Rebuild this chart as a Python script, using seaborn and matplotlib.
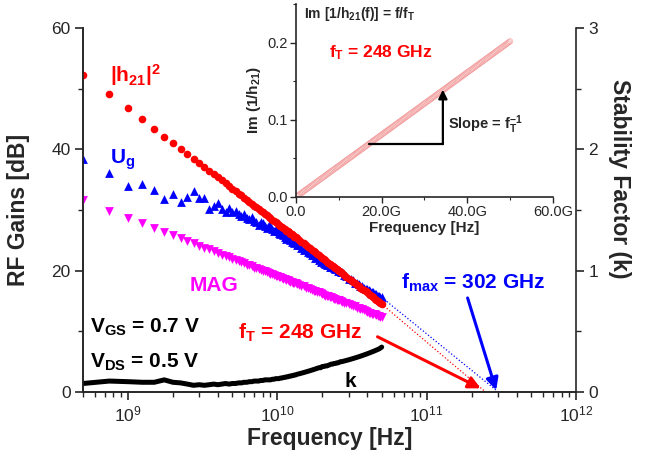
import numpy as np
import pandas as pd
import matplotlib
matplotlib.use("Agg")
import matplotlib.pyplot as plt
import seaborn as sns
from matplotlib.ticker import FuncFormatter, MultipleLocator, LogLocator, NullFormatter, FixedLocator

# ---------------- data ----------------
freq_ghz = [0.5, 0.75, 1.0, 1.25, 1.5, 1.75, 2.0, 2.25, 2.5, 2.75,
            3.0, 3.25, 3.5, 3.75, 4.0, 4.25, 4.5, 4.75, 5.0, 5.25,
            5.5, 5.75, 6.0, 6.25, 6.5, 6.75, 7.0, 7.25, 7.5, 7.75,
            8.0, 8.25, 8.5, 8.75, 9.0, 9.25, 9.5, 9.75, 10.0, 10.25,
            10.5, 10.75, 11.0, 11.25, 11.5, 11.75, 12.0, 12.25, 12.5, 12.75,
            13.0, 13.25, 13.5, 14.0, 14.5, 15.0, 15.5, 16.0, 16.5, 17.0,
            17.5, 18.0, 18.5, 19.0, 19.5, 20.0, 20.5, 21.0, 21.5, 22.0,
            22.5, 23.0, 23.5, 24.0, 24.5, 25.0, 25.5, 26.0, 26.5, 27.0,
            28, 29, 30, 31, 32, 33, 34, 35, 36, 37,
            38, 39, 40, 41, 42, 43, 44, 45, 46, 47,
            48, 49, 50]

h21_db = [52.3, 49.1, 46.8, 45.0, 43.4, 42.1, 41.0, 40.1, 39.2, 38.4,
          37.7, 37.1, 36.5, 35.9, 35.4, 34.9, 34.4, 33.9, 33.5, 33.1,
          32.7, 32.4, 32.0, 31.7, 31.3, 31.0, 30.7, 30.5, 30.2, 29.9,
          29.6, 29.4, 29.1, 28.9, 28.7, 28.4, 28.2, 28.0, 27.8, 27.6,
          27.4, 27.2, 27.0, 26.8, 26.6, 26.5, 26.3, 26.1, 26.0, 25.8,
          25.6, 25.5, 25.3, 25.0, 24.7, 24.5, 24.2, 23.9, 23.7, 23.4,
          23.2, 23.0, 22.7, 22.5, 22.3, 22.1, 21.9, 21.7, 21.5, 21.3,
          21.1, 20.9, 20.8, 20.6, 20.4, 20.2, 20.1, 19.9, 19.8, 19.6,
          19.3, 19.0, 18.7, 18.5, 18.2, 17.9, 17.7, 17.5, 17.2, 17.0,
          16.8, 16.6, 16.4, 16.2, 16.0, 15.8, 15.6, 15.4, 15.2, 15.0,
          14.9, 14.7, 14.5]

ug_db = [38.4, 36.1, 33.9, 34.3, 33.3, 31.8, 32.6, 31.3, 32.1, 33.1,
         32.0, 32.0, 30.1, 30.6, 31.1, 30.2, 29.7, 30.3, 29.6, 29.9,
         29.4, 29.0, 29.3, 28.7, 28.5, 28.9, 28.2, 28.0, 27.6, 28.1,
         27.9, 27.3, 27.1, 27.6, 27.4, 26.9, 26.6, 26.9, 26.5, 26.2,
         26.1, 26.4, 25.9, 25.6, 25.2, 25.7, 25.5, 25.0, 24.8, 25.1,
         24.6, 24.7, 24.3, 24.3, 23.8, 23.4, 23.6, 23.0, 22.9, 22.6,
         22.5, 22.1, 22.2, 21.8, 21.5, 21.7, 21.2, 21.1, 21.0, 21.0,
         20.6, 20.6, 20.7, 20.5, 20.2, 20.3, 20.0, 20.0, 19.7, 19.8,
         19.3, 19.1, 18.7, 18.6, 18.4, 18.0, 17.9, 17.8, 17.5, 17.4,
         17.2, 17.0, 16.9, 16.8, 16.6, 16.4, 16.4, 16.1, 16.2, 15.9,
         15.9, 15.6, 15.6]

mag_db = [31.6, 29.9, 28.7, 27.8, 27.0, 26.3, 25.8, 25.3, 24.9, 24.5,
          24.1, 23.8, 23.5, 23.2, 22.9, 22.6, 22.4, 22.2, 22.0, 21.8,
          21.6, 21.4, 21.2, 21.0, 20.9, 20.7, 20.5, 20.4, 20.3, 20.1,
          20.0, 19.9, 19.7, 19.6, 19.5, 19.4, 19.3, 19.2, 19.1, 19.0,
          18.9, 18.8, 18.7, 18.6, 18.5, 18.4, 18.3, 18.2, 18.1, 18.0,
          18.0, 17.9, 17.8, 17.6, 17.5, 17.4, 17.2, 17.1, 17.0, 16.8,
          16.7, 16.6, 16.5, 16.4, 16.3, 16.1, 16.0, 15.9, 15.8, 15.8,
          15.7, 15.6, 15.5, 15.4, 15.3, 15.2, 15.1, 15.1, 15.0, 14.9,
          14.7, 14.6, 14.5, 14.3, 14.2, 14.1, 13.9, 13.8, 13.7, 13.6,
          13.5, 13.4, 13.2, 13.1, 13.0, 12.9, 12.9, 12.8, 12.7, 12.6,
          12.5, 12.4, 12.3]

k_factor = [0.07, 0.09, 0.085, 0.08, 0.08, 0.10, 0.08, 0.075, 0.065, 0.055,
            0.06, 0.055, 0.06, 0.065, 0.06, 0.065, 0.07, 0.065, 0.07, 0.07,
            0.075, 0.075, 0.08, 0.08, 0.085, 0.085, 0.09, 0.09, 0.09, 0.095,
            0.095, 0.10, 0.10, 0.10, 0.10, 0.105, 0.105, 0.11, 0.11, 0.11,
            0.115, 0.115, 0.12, 0.12, 0.125, 0.125, 0.13, 0.13, 0.135, 0.135,
            0.14, 0.14, 0.145, 0.15, 0.155, 0.16, 0.165, 0.17, 0.175, 0.18,
            0.185, 0.19, 0.195, 0.20, 0.20, 0.21, 0.21, 0.215, 0.215, 0.22,
            0.225, 0.23, 0.23, 0.235, 0.235, 0.24, 0.24, 0.245, 0.25, 0.25,
            0.255, 0.26, 0.265, 0.27, 0.275, 0.28, 0.285, 0.29, 0.295, 0.30,
            0.305, 0.31, 0.315, 0.32, 0.325, 0.33, 0.335, 0.34, 0.345, 0.35,
            0.355, 0.362, 0.37]

inset_freq_ghz = [0.25, 0.5, 0.75, 1.0, 1.25, 1.5, 1.75, 2.0, 2.25, 2.5,
                  2.75, 3.0, 3.25, 3.5, 3.75, 4.0, 4.25, 4.5, 4.75, 5.0,
                  5.25, 5.5, 5.75, 6.0, 6.25, 6.5, 6.75, 7.0, 7.25, 7.5,
                  7.75, 8.0, 8.25, 8.5, 8.75, 9.0, 9.25, 9.5, 9.75, 10.0,
                  10.25, 10.5, 10.75, 11.0, 11.25, 11.5, 11.75, 12.0, 12.25, 12.5,
                  12.75, 13.0, 13.25, 13.5, 13.75, 14.0, 14.25, 14.5, 14.75, 15.0,
                  15.25, 15.5, 15.75, 16.0, 16.25, 16.5, 16.75, 17.0, 17.25, 17.5,
                  17.75, 18.0, 18.25, 18.5, 18.75, 19.0, 19.25, 19.5, 19.75, 20.0,
                  20.25, 20.5, 20.75, 21.0, 21.25, 21.5, 21.75, 22.0, 22.25, 22.5,
                  22.75, 23.0, 23.25, 23.5, 23.75, 24.0, 24.25, 24.5, 24.75, 25.0,
                  25.25, 25.5, 25.75, 26.0, 26.25, 26.5, 26.75, 27.0, 27.25, 27.5,
                  27.75, 28.0, 28.25, 28.5, 28.75, 29.0, 29.25, 29.5, 29.75, 30.0,
                  30.25, 30.5, 30.75, 31.0, 31.25, 31.5, 31.75, 32.0, 32.25, 32.5,
                  32.75, 33.0, 33.25, 33.5, 33.75, 34.0, 34.25, 34.5, 34.75, 35.0,
                  35.25, 35.5, 35.75, 36.0, 36.25, 36.5, 36.75, 37.0, 37.25, 37.5,
                  37.75, 38.0, 38.25, 38.5, 38.75, 39.0, 39.25, 39.5, 39.75, 40.0,
                  40.25, 40.5, 40.75, 41.0, 41.25, 41.5, 41.75, 42.0, 42.25, 42.5,
                  42.75, 43.0, 43.25, 43.5, 43.75, 44.0, 44.25, 44.5, 44.75, 45.0,
                  45.25, 45.5, 45.75, 46.0, 46.25, 46.5, 46.75, 47.0, 47.25, 47.5,
                  47.75, 48.0, 48.25, 48.5, 48.75, 49.0, 49.25, 49.5, 49.75, 50.0]

im_inv_h21 = [0.0010, 0.0020, 0.0030, 0.0040, 0.0050, 0.0060, 0.0071, 0.0081, 0.0091, 0.0101,
              0.0111, 0.0121, 0.0131, 0.0141, 0.0151, 0.0161, 0.0171, 0.0181, 0.0192, 0.0202,
              0.0212, 0.0222, 0.0232, 0.0242, 0.0252, 0.0262, 0.0272, 0.0282, 0.0292, 0.0302,
              0.0313, 0.0323, 0.0333, 0.0343, 0.0353, 0.0363, 0.0373, 0.0383, 0.0393, 0.0403,
              0.0413, 0.0423, 0.0433, 0.0444, 0.0454, 0.0464, 0.0474, 0.0484, 0.0494, 0.0504,
              0.0514, 0.0524, 0.0534, 0.0544, 0.0554, 0.0565, 0.0575, 0.0585, 0.0595, 0.0605,
              0.0615, 0.0625, 0.0635, 0.0645, 0.0655, 0.0665, 0.0675, 0.0685, 0.0696, 0.0706,
              0.0716, 0.0726, 0.0736, 0.0746, 0.0756, 0.0766, 0.0776, 0.0786, 0.0796, 0.0806,
              0.0817, 0.0827, 0.0837, 0.0847, 0.0857, 0.0867, 0.0877, 0.0887, 0.0897, 0.0907,
              0.0917, 0.0927, 0.0938, 0.0948, 0.0958, 0.0968, 0.0978, 0.0988, 0.0998, 0.1008,
              0.1018, 0.1028, 0.1038, 0.1048, 0.1058, 0.1069, 0.1079, 0.1089, 0.1099, 0.1109,
              0.1119, 0.1129, 0.1139, 0.1149, 0.1159, 0.1169, 0.1179, 0.1190, 0.1200, 0.1210,
              0.1220, 0.1230, 0.1240, 0.1250, 0.1260, 0.1270, 0.1280, 0.1290, 0.1300, 0.1310,
              0.1321, 0.1331, 0.1341, 0.1351, 0.1361, 0.1371, 0.1381, 0.1391, 0.1401, 0.1411,
              0.1421, 0.1431, 0.1442, 0.1452, 0.1462, 0.1472, 0.1482, 0.1492, 0.1502, 0.1512,
              0.1522, 0.1532, 0.1542, 0.1552, 0.1563, 0.1573, 0.1583, 0.1593, 0.1603, 0.1613,
              0.1623, 0.1633, 0.1643, 0.1653, 0.1663, 0.1673, 0.1683, 0.1694, 0.1704, 0.1714,
              0.1724, 0.1734, 0.1744, 0.1754, 0.1764, 0.1774, 0.1784, 0.1794, 0.1804, 0.1815,
              0.1825, 0.1835, 0.1845, 0.1855, 0.1865, 0.1875, 0.1885, 0.1895, 0.1905, 0.1915,
              0.1925, 0.1935, 0.1946, 0.1956, 0.1966, 0.1976, 0.1986, 0.1996, 0.2006, 0.2016]

ft_ghz = 248
fmax_ghz = 302

# ---------------- style ----------------
sns.set_style("ticks")
plt.rcParams["font.family"] = ["Liberation Sans", "DejaVu Sans"]
plt.rcParams["mathtext.fontset"] = "custom"
plt.rcParams["mathtext.rm"] = "Liberation Sans"
plt.rcParams["mathtext.bf"] = "Liberation Sans:bold"
plt.rcParams["mathtext.it"] = "Liberation Sans:italic"
plt.rcParams["axes.linewidth"] = 1.2

RED = "#ff0000"
BLUE = "#0000ff"
MAGENTA = "#ff00ff"

df = pd.DataFrame({
    "f": np.array(freq_ghz) * 1e9,
    "h21": h21_db,
    "ug": ug_db,
    "mag": mag_db,
    "k": k_factor,
})
dfi = pd.DataFrame({"f": inset_freq_ghz, "im": im_inv_h21})

fig = plt.figure(figsize=(6.49, 4.61), dpi=100)
ax = fig.add_axes([0.1279, 0.1497, 0.7596, 0.7896])
ax2 = ax.twinx()

# main series
sns.scatterplot(data=df, x="f", y="mag", ax=ax, marker="v", color=MAGENTA,
                s=40, linewidth=0, legend=False, zorder=3)
sns.scatterplot(data=df, x="f", y="ug", ax=ax, marker="^", color=BLUE,
                s=40, linewidth=0, legend=False, zorder=4)
sns.scatterplot(data=df, x="f", y="h21", ax=ax, marker="o", color=RED,
                s=30, linewidth=0, legend=False, zorder=5)
sns.lineplot(data=df, x="f", y="k", ax=ax2, color="black", lw=3.6,
             legend=False)

# extrapolation lines
ax.plot([df["f"].iloc[-1], ft_ghz * 1e9], [df["h21"].iloc[-1], 0],
        ls=":", color=RED, lw=0.9, zorder=2)
ax.plot([df["f"].iloc[-1], fmax_ghz * 1e9], [df["ug"].iloc[-1], 0],
        ls=":", color=BLUE, lw=0.9, zorder=2)

ax.set_xscale("log")
ax.set_xlim(5e8, 1e12)
ax.set_ylim(0, 60)
ax2.set_ylim(0, 3)

ax.yaxis.set_major_locator(MultipleLocator(20))
ax.yaxis.set_minor_locator(MultipleLocator(10))
ax2.yaxis.set_major_locator(MultipleLocator(1))
ax2.yaxis.set_minor_locator(MultipleLocator(0.5))
ax.xaxis.set_major_locator(LogLocator(base=10, numticks=20))
ax.xaxis.set_minor_locator(LogLocator(base=10, subs=np.arange(2, 10), numticks=50))
ax.xaxis.set_minor_formatter(NullFormatter())

for a in (ax, ax2):
    a.spines["top"].set_visible(False)
    a.tick_params(which="major", direction="out", length=6, width=1.2,
                  labelsize=12.5, pad=3)
    a.tick_params(which="minor", direction="out", length=3.5, width=1.0)
ax.spines["right"].set_visible(False)

ax.set_xlabel("Frequency [Hz]", fontsize=16.5, fontweight="bold", labelpad=2)
ax.set_ylabel("RF Gains [dB]", fontsize=16.5, fontweight="bold")
ax.yaxis.set_label_coords(-0.107, 0.5)
ax2.set_ylabel("Stability Factor (k)", fontsize=16.5, fontweight="bold",
               rotation=270, va="center")
ax2.yaxis.set_label_coords(1.089, 0.585)

# annotations
tkw = dict(fontsize=15, fontweight="bold")
ax.text(7.57e8, 52.2, r"|h$_{\mathbf{21}}$|$^{\mathbf{2}}$", color=RED,
        va="center", ha="left", **tkw)
ax.text(7.57e8, 38.2, r"U$_{\mathbf{g}}$", color=BLUE, va="center", ha="left", **tkw)
ax.text(3.78e9, 17.6, "MAG", color=MAGENTA, va="center", ha="center", **tkw)
ax.text(5.56e8, 10.7, r"V$_{\mathbf{GS}}$ = 0.7 V", color="black",
        va="center", ha="left", **tkw)
ax.text(5.56e8, 4.9, r"V$_{\mathbf{DS}}$ = 0.5 V", color="black",
        va="center", ha="left", **tkw)
ax.text(3.1e10, 1.7, "k", color="black", va="center", ha="center", **tkw)
ax.text(5.47e9, 9.7, r"f$_{\mathbf{T}}$ = %d GHz" % ft_ghz, color=RED,
        va="center", ha="left", **tkw)
ax.text(6.7e10, 18.0, r"f$_{\mathbf{max}}$ = %d GHz" % fmax_ghz, color=BLUE,
        va="center", ha="left", **tkw)

ax.annotate("", xy=(2.3e11, 0.6), xytext=(4.69e10, 9.1),
            arrowprops=dict(arrowstyle="-|>", color=RED, lw=2.2,
                            mutation_scale=18, shrinkA=0, shrinkB=0))
ax.annotate("", xy=(2.92e11, 0.3), xytext=(1.88e11, 15.5),
            arrowprops=dict(arrowstyle="-|>", color=BLUE, lw=2.2,
                            mutation_scale=18, shrinkA=0, shrinkB=0))

# ---------------- inset ----------------
axi = fig.add_axes([0.456, 0.5727, 0.396, 0.4186])
sns.scatterplot(data=dfi, x="f", y="im", ax=axi, marker="o", color="none",
                edgecolor="#f3a0a0", s=15, linewidth=0.45, legend=False)
axi.set_xlim(0, 60)
axi.set_ylim(0, 0.25)
axi.spines["top"].set_visible(False)
axi.spines["right"].set_visible(False)
axi.xaxis.set_major_locator(FixedLocator([0, 20, 40, 60]))
axi.xaxis.set_minor_locator(MultipleLocator(10))
axi.yaxis.set_major_locator(FixedLocator([0.0, 0.1, 0.2]))
axi.yaxis.set_minor_locator(MultipleLocator(0.05))
axi.xaxis.set_major_formatter(FuncFormatter(lambda v, p: "0.0" if v == 0 else "%.1fG" % v))
axi.yaxis.set_major_formatter(FuncFormatter(lambda v, p: "%.1f" % v))
axi.tick_params(which="major", direction="out", length=4, width=1.0,
                labelsize=10.5, pad=2)
axi.tick_params(which="minor", direction="out", length=2.5, width=0.8)
axi.set_xlabel("Frequency [Hz]", fontsize=11, fontweight="bold", labelpad=1)
axi.set_ylabel(r"Im (1/h$_{\mathbf{21}}$)", fontsize=11, fontweight="bold", labelpad=3)

axi.plot([17.0, 34.3], [0.0685, 0.0685], color="black", lw=1.6)
axi.annotate("", xy=(34.3, 0.139), xytext=(34.3, 0.0685),
             arrowprops=dict(arrowstyle="-|>", color="black", lw=1.6,
                             mutation_scale=13, shrinkA=0, shrinkB=0))
axi.text(35.6, 0.093, r"Slope = f$_{\mathbf{T}}^{\mathbf{-1}}$", fontsize=10.5,
         fontweight="bold", va="center", ha="left")
axi.text(1.9, 0.237, r"Im [1/h$_{\mathbf{21}}$(f)] = f/f$_{\mathbf{T}}$", fontsize=10,
         fontweight="bold", va="center", ha="left")
axi.text(7.7, 0.187, r"f$_{\mathbf{T}}$ = %d GHz" % ft_ghz, fontsize=12.5,
         fontweight="bold", color=RED, va="center", ha="left")

fig.savefig("out.png", dpi=100)
